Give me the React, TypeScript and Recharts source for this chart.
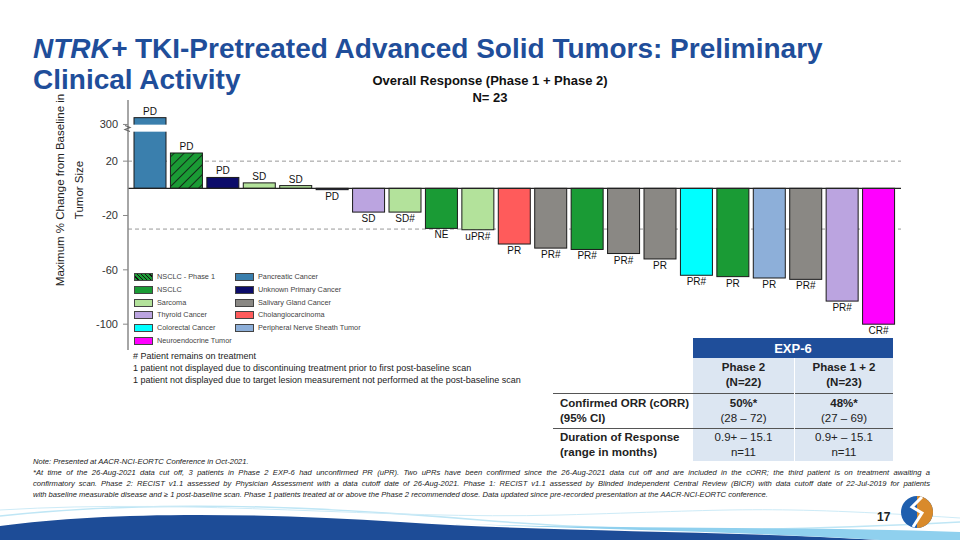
import { BarChart, Bar, XAxis, YAxis, ReferenceLine, LabelList, CartesianGrid } from 'recharts';

const FONT = '"Liberation Sans", Arial, sans-serif';
const TITLE_BLUE = '#1F4E9A';

// one bar per displayed patient, sorted as in the waterfall
const patients = ['p1', 'p2', 'p3', 'p4', 'p5', 'p6', 'p7', 'p8', 'p9', 'p10', 'p11', 'p12', 'p13', 'p14', 'p15', 'p16', 'p17', 'p18', 'p19', 'p20', 'p21'];
const changes = [310, 26, 8, 4, 2, -1, -17.5, -17.5, -29.5, -30.5, -41, -44, -45, -48, -52, -64, -65, -66, -67, -83, -100];
const responses = ['PD', 'PD', 'PD', 'SD', 'SD', 'PD', 'SD', 'SD#', 'NE', 'uPR#', 'PR', 'PR#', 'PR#', 'PR#', 'PR', 'PR#', 'PR', 'PR', 'PR#', 'PR#', 'CR#'];
const tumors = [
  'Pancreatic Cancer', 'NSCLC - Phase 1', 'Unknown Primary Cancer', 'Sarcoma', 'Sarcoma', 'Unknown Primary Cancer',
  'Thyroid Cancer', 'Sarcoma', 'NSCLC', 'Sarcoma', 'Cholangiocarcinoma', 'Salivary Gland Cancer', 'NSCLC',
  'Salivary Gland Cancer', 'Salivary Gland Cancer', 'Colorectal Cancer', 'NSCLC', 'Peripheral Nerve Sheath Tumor',
  'Salivary Gland Cancer', 'Thyroid Cancer', 'Neuroendocrine Tumor',
];
const yTicks = [-100, -60, -20, 20, 300];
const legendLeft = ['NSCLC - Phase 1', 'NSCLC', 'Sarcoma', 'Thyroid Cancer', 'Colorectal Cancer', 'Neuroendocrine Tumor'];
const legendRight = ['Pancreatic Cancer', 'Unknown Primary Cancer', 'Salivary Gland Cancer', 'Cholangiocarcinoma', 'Peripheral Nerve Sheath Tumor'];

const noteLines = [
  '*At time of the 26-Aug-2021 data cut off, 3 patients in Phase 2 EXP-6 had unconfirmed PR (uPR). Two uPRs have been confirmed since the 26-Aug-2021 data cut off and are included in the cORR; the third patient is on treatment awaiting a',
  'confirmatory scan. Phase 2: RECIST v1.1 assessed by Physician Assessment with a data cutoff date of 26-Aug-2021. Phase 1: RECIST v1.1  assessed by Blinded Independent Central Review (BICR) with data cutoff date of 22-Jul-2019 for patients',
  'with baseline measurable disease and ≥ 1 post-baseline scan. Phase 1 patients  treated at or above the Phase 2 recommended dose.  Data updated since pre-recorded presentation at the AACR-NCI-EORTC conference.',
];

const COLORS: Record<string, string> = {
  'NSCLC - Phase 1': 'url(#hatch)',
  NSCLC: '#1A9B35',
  Sarcoma: '#B3E29B',
  'Thyroid Cancer': '#BBA4E0',
  'Colorectal Cancer': '#00FFFF',
  'Neuroendocrine Tumor': '#FF00FF',
  'Pancreatic Cancer': '#3A7FAD',
  'Unknown Primary Cancer': '#0C0C6A',
  'Salivary Gland Cancer': '#8A8884',
  Cholangiocarcinoma: '#FF5B5B',
  'Peripheral Nerve Sheath Tumor': '#8DAFD9',
};

// broken axis: everything above 40 is squeezed just above the break
const toPlot = (v: number) => (v > 40 ? 47 + (v - 300) / 2 : v);

const data = patients.map((id, i) => ({ id, change: toPlot(changes[i]), response: responses[i] }));

function BarShape(props: any) {
  const { x, y, width, height, index } = props;
  const top = Math.min(y, y + height);
  const h = Math.abs(height);
  const fill = COLORS[tumors[index]];
  return (
    <g>
      <rect x={x} y={top} width={width} height={h} fill={fill} stroke="#1a1a1a" strokeWidth={1} />
      {changes[index] > 40 && <rect x={x - 1} y={top + 7} width={width + 2} height={7} fill="#fff" />}
    </g>
  );
}

function ResponseLabel(props: any) {
  const { x, y, width, height, value, index } = props;
  const top = Math.min(y, y + height);
  const bottom = Math.max(y, y + height);
  const isUp = data[index]?.change >= 0;
  return (
    <text x={x + width / 2} y={isUp ? top - 3 : bottom + 10} textAnchor="middle" fontSize={10} fill="#111" fontFamily={FONT}>
      {value}
    </text>
  );
}

function YTick(props: any) {
  const { x, y, payload } = props;
  const i = yTicks.map(toPlot).indexOf(payload.value);
  const label = i >= 0 ? yTicks[i] : payload.value;
  return (
    <g>
      <text x={x - 3} y={y + 4} textAnchor="end" fontSize={11} fill="#333" fontFamily={FONT}>{label}</text>
      {label === 300 && (
        <path d={`M ${x + 4} ${y + 1} l 5 2 l -5 2 l 5 2`} stroke="#666" fill="none" strokeWidth={1.2} />
      )}
    </g>
  );
}

function Swatch({ name }: { name: string }) {
  const hatched = name === 'NSCLC - Phase 1';
  return (
    <span style={{ display: 'inline-block', width: 19, height: 8, marginRight: 4, border: '1px solid #444', boxSizing: 'border-box', verticalAlign: 'middle',
      background: hatched ? 'repeating-linear-gradient(45deg, #1A9B35 0 2px, #111 2px 3px)' : COLORS[name] }} />
  );
}

function LegendCol({ items, left }: { items: string[]; left: number }) {
  return (
    <div style={{ position: 'absolute', left, top: 272 }}>
      {items.map((n) => (
        <div key={n} style={{ height: 12.8, fontSize: 7.3, color: '#444', fontFamily: FONT, whiteSpace: 'nowrap', lineHeight: '10px' }}>
          <Swatch name={n} />{n}
        </div>
      ))}
    </div>
  );
}

const cell = { background: '#DCE6F2', textAlign: 'center' as const, fontSize: 11.5, color: '#222', lineHeight: '15px' };
const rowLabel = { fontSize: 11.5, fontWeight: 700, color: '#222', paddingLeft: 7, lineHeight: '15px', whiteSpace: 'nowrap' as const };

export default function App() {
  return (
    <div style={{ position: 'absolute', left: 0, top: 0, width: 960, height: 540, background: '#fff', fontFamily: FONT, overflow: 'hidden' }}>
      <div style={{ position: 'absolute', left: 33, top: 33, fontSize: 28, fontWeight: 700, color: TITLE_BLUE, lineHeight: '31px', whiteSpace: 'nowrap' }}>
        <i>NTRK+</i> TKI-Pretreated Advanced Solid Tumors: Preliminary<br />Clinical Activity
      </div>
      <div style={{ position: 'absolute', left: 340, width: 300, top: 72, textAlign: 'center', fontSize: 13, fontWeight: 700, color: '#111', lineHeight: '17px' }}>
        Overall Response (Phase 1 + Phase 2)<br />N= 23
      </div>

      <div style={{ position: 'absolute', left: 71 - 130, top: 190 - 20, width: 260, height: 40, transform: 'rotate(-90deg)', textAlign: 'center', fontSize: 11.5, color: '#222', lineHeight: '19px', whiteSpace: 'nowrap' }}>
        Maximum % Change from Baseline in<br />Tumor Size
      </div>

      <div style={{ position: 'absolute', left: 0, top: 0 }}>
        <BarChart width={960} height={540} data={data} margin={{ top: 100, right: 59, bottom: 190, left: 88 }}>
          <defs>
            <pattern id="hatch" patternUnits="userSpaceOnUse" width="7" height="7" patternTransform="rotate(45)">
              <rect width="7" height="7" fill="#1A9B35" />
              <line x1="0" y1="0" x2="0" y2="7" stroke="#111" strokeWidth="1.6" />
            </pattern>
          </defs>
          <CartesianGrid vertical={false} horizontalValues={[20, -30]} stroke="#999" strokeDasharray="4 3" />
          <XAxis dataKey="id" hide padding={{ left: 4, right: 4 }} />
          <YAxis width={40} domain={[-119, 65]} ticks={yTicks.map(toPlot)} interval={0} tick={<YTick />}
            axisLine={{ stroke: '#888', strokeWidth: 1.5 }} tickLine={{ stroke: '#888' }} tickSize={5} />
          <Bar dataKey="change" barSize={32} shape={<BarShape />} isAnimationActive={false}>
            <LabelList dataKey="response" content={<ResponseLabel />} />
          </Bar>
          <ReferenceLine y={0} stroke="#222" strokeWidth={1.2} />
        </BarChart>
      </div>

      <LegendCol items={legendLeft} left={134} />
      <LegendCol items={legendRight} left={235} />

      <div style={{ position: 'absolute', left: 133, top: 350, fontSize: 9, color: '#222', lineHeight: '12px' }}>
        # Patient remains on treatment<br />
        1 patient not displayed due to discontinuing treatment prior to first post-baseline scan<br />
        1 patient not displayed due to target lesion measurement not performed at the post-baseline scan
      </div>

      <table style={{ position: 'absolute', left: 553, top: 338, width: 340, borderCollapse: 'collapse', fontFamily: FONT }}>
        <tbody>
          <tr style={{ height: 20 }}>
            <td style={{ width: 140, padding: 0 }} />
            <td colSpan={2} style={{ background: TITLE_BLUE, color: '#fff', fontWeight: 700, fontSize: 13, textAlign: 'center', padding: 0 }}>EXP-6</td>
          </tr>
          <tr style={{ height: 35, borderBottom: '1.5px solid #555' }}>
            <td />
            <td style={{ ...cell, fontWeight: 700, width: 99, borderRight: '1.5px solid #fff' }}>Phase 2<br />(N=22)</td>
            <td style={{ ...cell, fontWeight: 700 }}>Phase 1 + 2<br />(N=23)</td>
          </tr>
          <tr style={{ height: 35, borderBottom: '1.5px solid #555' }}>
            <td style={rowLabel}>Confirmed ORR (cORR)<br />(95% CI)</td>
            <td style={{ ...cell, borderRight: '1.5px solid #fff' }}><b>50%*</b><br />(28 – 72)</td>
            <td style={cell}><b>48%*</b><br />(27 – 69)</td>
          </tr>
          <tr style={{ height: 32 }}>
            <td style={rowLabel}>Duration of Response<br />(range in months)</td>
            <td style={{ ...cell, borderRight: '1.5px solid #fff' }}>0.9+ – 15.1<br />n=11</td>
            <td style={cell}>0.9+ – 15.1<br />n=11</td>
          </tr>
        </tbody>
      </table>

      <div style={{ position: 'absolute', left: 33, top: 456, width: 897, fontSize: 7.6, fontStyle: 'italic', color: '#222', lineHeight: '11px' }}>
        <div>Note: Presented at AACR-NCI-EORTC Conference in Oct-2021.</div>
        {noteLines.map((t, i) => (
          <div key={i} style={{ textAlign: 'justify', textAlignLast: i < noteLines.length - 1 ? 'justify' : 'left', whiteSpace: 'nowrap' }}>{t}</div>
        ))}
      </div>

      <svg style={{ position: 'absolute', left: 0, top: 0 }} width={960} height={540}>
        <path d="M0 516 C 150 500, 300 505, 480 520 S 800 530, 960 522" stroke="#BFE6F5" strokeWidth={1.5} fill="none" />
        <path d="M0 510 C 200 498, 380 520, 560 515 S 760 505, 960 518" stroke="#CDEBF7" strokeWidth={1} fill="none" />
        <path d="M0 526 C 100 512, 250 512, 400 522 S 700 530, 880 540 L 0 540 Z" fill="#1D4C97" />
        <path d="M400 522 C 600 530, 800 526, 960 532 L 960 540 L 880 540 C 700 530, 560 528, 400 522 Z" fill="#8FD0EE" />
        <text x={877} y={521} fontSize={12} fontWeight={700} fill="#222" fontFamily={FONT}>17</text>
        <circle cx={917} cy={512} r={16} fill="#1F5FAE" />
        <path d="M917 496 A16 16 0 0 1 917 528 Z" fill="#D98A2B" />
        <path d="M922 497 L912 507 L922 513 L913 527" stroke="#fff" strokeWidth={3} fill="none" />
      </svg>
    </div>
  );
}
